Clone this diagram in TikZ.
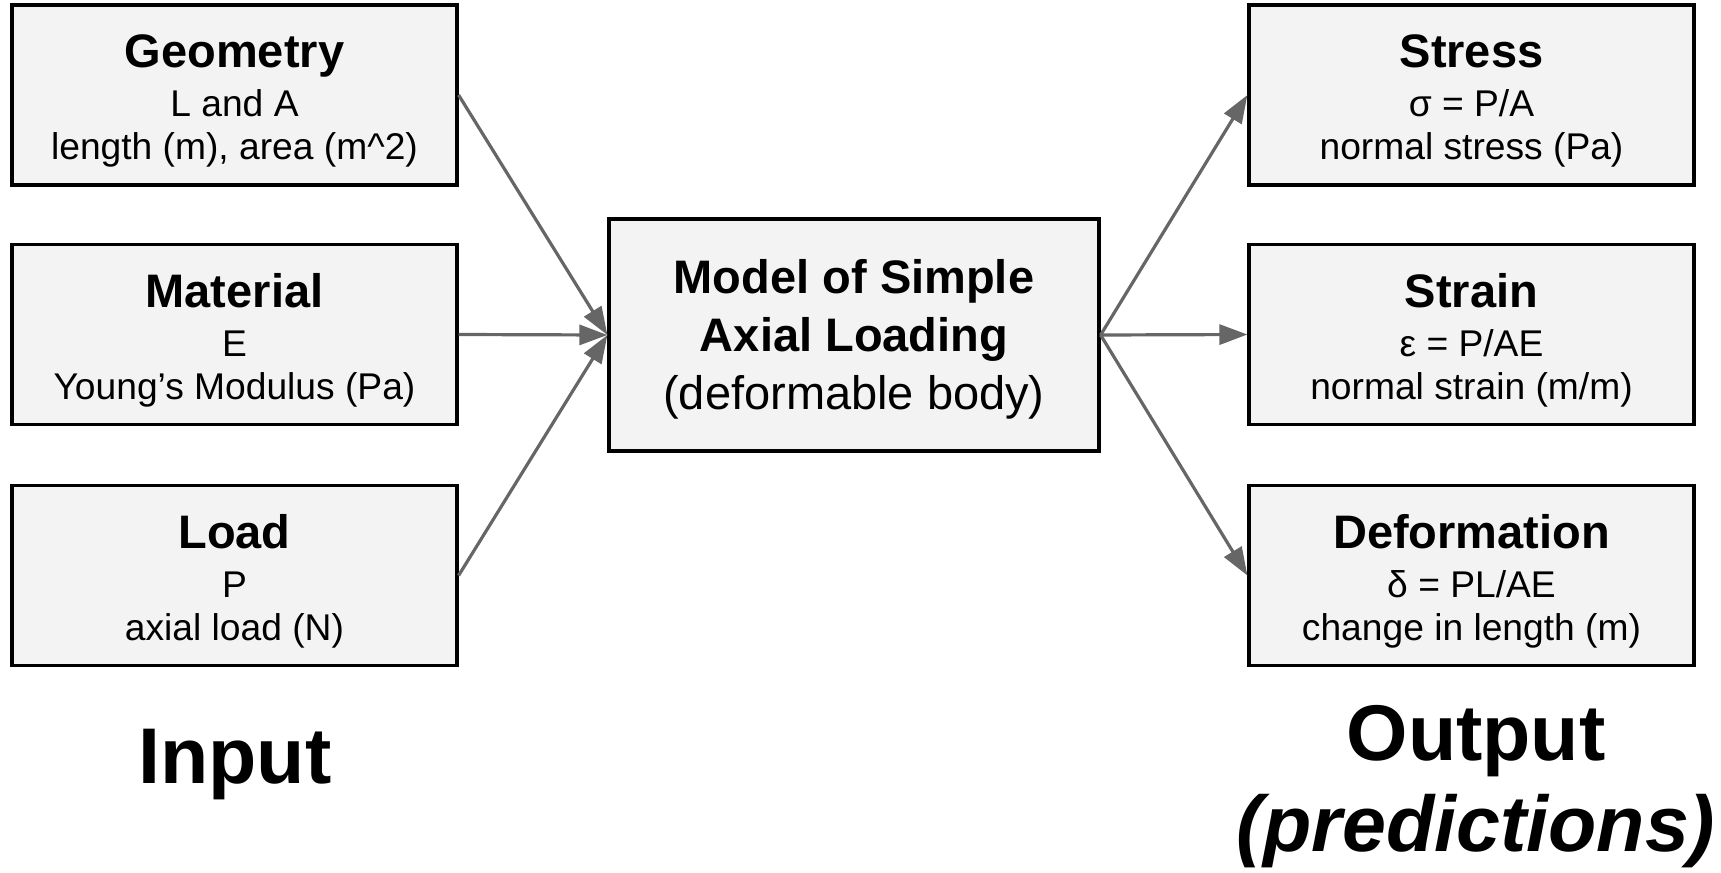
\documentclass[tikz,border=0pt]{standalone}
\usepackage{fontspec}
\setmainfont{Liberation Sans}
\usetikzlibrary{arrows.meta}
\definecolor{boxfill}{HTML}{F3F3F3}
\definecolor{arrowgray}{HTML}{666666}
\newcommand\boxtitle{\fontsize{23.5}{28}\selectfont\bfseries}
\begin{document}
\begin{tikzpicture}[x=0.5pt,y=-0.5pt,
  box/.style={draw=black, line width=1.6pt, fill=boxfill, inner sep=0pt,
    minimum width=222.5pt, minimum height=90pt},
  bigbox/.style={box, minimum width=245pt, minimum height=116pt},
  txt/.style={align=center, inner sep=0pt, font=\fontsize{18.6}{21.5}\selectfont},
  ctxt/.style={align=center, inner sep=0pt, font=\fontsize{23.5}{29}\selectfont},
  big/.style={inner sep=0pt, anchor=base, font=\fontsize{39.5}{45.5}\selectfont\bfseries},
  arr/.style={draw=arrowgray, line width=1.6pt, -{Triangle[length=14pt,width=10pt]}}]
\useasboundingbox (0,0) rectangle (1721,873);

% input boxes
\node[box] (geo) at (234.5,95) {};
\node[box] (mat) at (234.5,334.5) {};
\node[box] (load) at (234.5,575.5) {};
\node[txt] (geot) at ([yshift=-3pt]geo.center) {{\boxtitle Geometry}\\[3pt] L and A\\ length (m), area (m\textasciicircum 2)};
\node[txt] (matt) at ([yshift=-3pt]mat.center) {{\boxtitle Material}\\[3pt] E\\ Young’s Modulus (Pa)};
\node[txt] (loadt) at ([yshift=-3pt]load.center) {{\boxtitle Load}\\[3pt] P\\ axial load (N)};

% model box
\node[bigbox] (model) at (854,335) {};
\node[ctxt] (modelt) at ([yshift=-2.25pt]model.center) {\textbf{Model of Simple}\\ \textbf{Axial Loading}\\ (deformable body)};

% output boxes
\node[box] (stress) at (1471.5,95) {};
\node[box] (strain) at (1471.5,334.5) {};
\node[box] (defo) at (1471.5,575.5) {};
\node[txt] (stresst) at ([yshift=-3pt]stress.center) {{\boxtitle Stress}\\[3pt] σ = P/A\\ normal stress (Pa)};
\node[txt] (straint) at ([yshift=-3pt]strain.center) {{\boxtitle Strain}\\[3pt] ε = P/AE\\ normal strain (m/m)};
\node[txt] (defot) at ([yshift=-3pt]defo.center) {{\boxtitle Deformation}\\[3pt] δ = PL/AE\\ change in length (m)};

% connectors
\draw[arr] (geo.east) -- (model.west);
\draw[arr] (mat.east) -- (model.west);
\draw[arr] (load.east) -- (model.west);
\draw[arr] (model.east) -- (stress.west);
\draw[arr] (model.east) -- (strain.west);
\draw[arr] (model.east) -- (defo.west);

% captions
\node[big] (input) at (235,783) {Input};
\node[big] (output) at (1476,760) {Output};
\node[big] (pred) at (1476,851) {\itshape (predictions)};
\end{tikzpicture}
\end{document}
